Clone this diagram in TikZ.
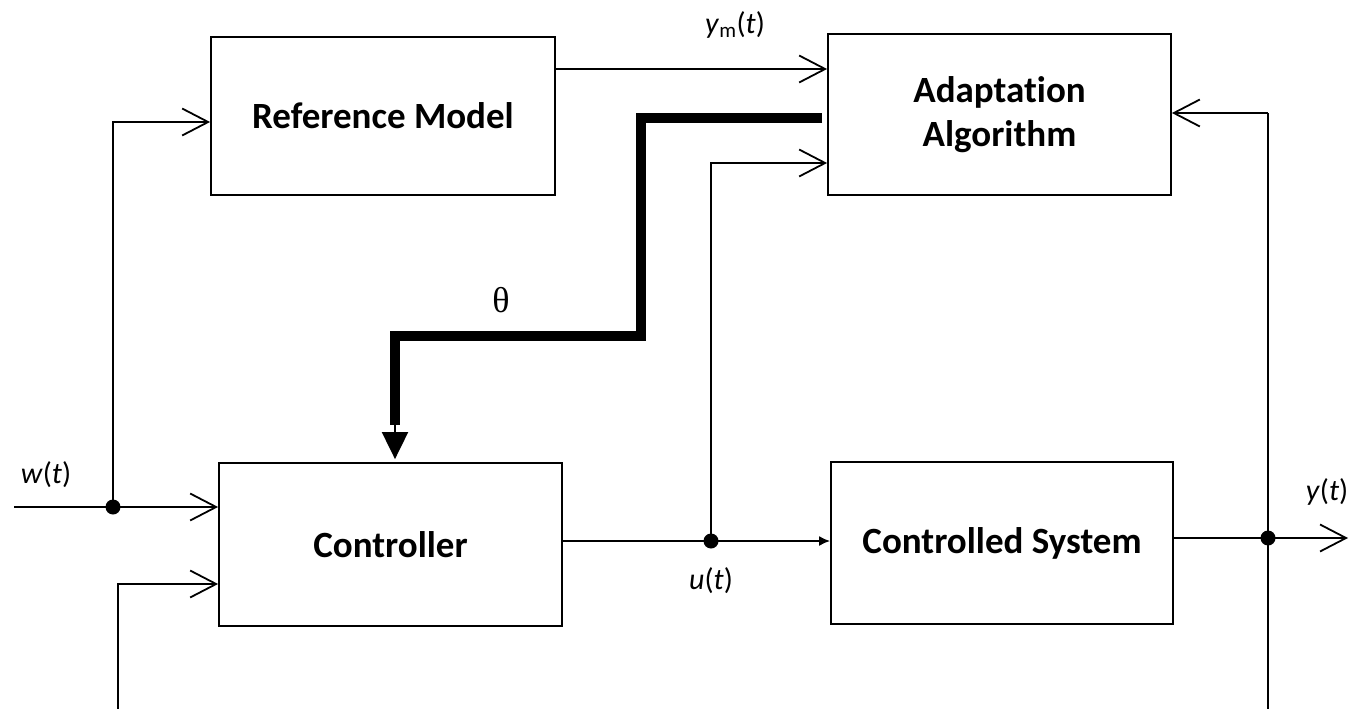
\documentclass[tikz,border=0pt]{standalone}
\usepackage{fontspec}
\setmainfont{Carlito}[RawFeature={-liga;-clig;-calt}]
\newfontfamily\thetafont{Liberation Serif}
\usetikzlibrary{arrows.meta,positioning}
\tikzset{
  block/.style={draw=black,line width=1.8pt,rectangle,inner sep=0pt,
    font=\fontsize{37}{44}\selectfont\bfseries,align=center},
  wire/.style={line width=1.8pt},
  openarr/.style={-{Straight Barb[length=26pt,width=27pt]}},
  smallarr/.style={-{Latex[length=11pt,width=10pt]}},
  junction/.style={circle,fill=black,inner sep=0pt,minimum size=15pt},
  siglabel/.style={font=\fontsize{30}{34}\selectfont,inner sep=0pt},
  thickline/.style={line width=10pt,line join=miter}
}
\begin{document}
\begin{tikzpicture}[x=1pt,y=-1pt]
\useasboundingbox[fill=white] (0,0) rectangle (1355,709);

% blocks
\node[block,minimum width=344pt,minimum height=158pt] (ref) at (383,116) {Reference Model};
\node[block,minimum width=343pt,minimum height=161pt] (adapt) at (999.5,114.5) {Adaptat\kern0pt ion\\Algorithm};
\node[block,minimum width=343pt,minimum height=163pt] (ctrl) at (390.5,544.5) {Controller};
\node[block,minimum width=342pt,minimum height=162pt] (plant) at (1002,543) {Controlled System};

% coordinates
\coordinate (win) at (14,507);
\node[junction] (dw) at (113,507) {};
\coordinate (wup) at (113,122);
\coordinate (fbl) at (118,709);
\coordinate (fblc) at (118,584);
\node[junction] (du) at (711,541) {};
\coordinate (uup) at (711,163);
\node[junction] (dy) at (1268,538) {};
\coordinate (ytop) at (1268,113);
\coordinate (ybot) at (1268,709);
\coordinate (yout) at (1348,538);
\coordinate (ym) at (0,69);
\coordinate (cout) at (0,541);
\coordinate (pout) at (0,538);

% w(t) input
\draw[wire] (win) -- (dw.center);
\draw[wire,openarr] (dw.center) -- (ctrl.west |- dw);
\draw[wire,openarr] (dw.center) -- (wup) -- (ref.west |- wup);

% bottom feedback into controller
\draw[wire,openarr] (fbl) -- (fblc) -- (ctrl.west |- fblc);

% y_m(t)
\draw[wire,openarr] (ref.east |- ym) -- (adapt.west |- ym);

% u(t)
\draw[wire] (ctrl.east |- cout) -- (du.center);
\draw[wire,smallarr] (du.center) -- (plant.west |- cout);
\draw[wire,openarr] (du.center) -- (uup) -- (adapt.west |- uup);

% y(t)
\draw[wire] (plant.east |- pout) -- (dy.center);
\draw[wire,openarr] (dy.center) -- (yout);
\draw[wire] (ybot) -- (ytop);
\draw[wire,openarr] (ytop) -- (adapt.east |- ytop);

% theta
\coordinate (th0) at (822,118);
\coordinate (th1) at (641,118);
\coordinate (th2) at (641,336);
\coordinate (th3) at (395,336);
\coordinate (th4) at (395,425);
\draw[thickline] (th0) -- (th1) -- (th2) -- (th3) -- (th4);
\draw[line width=2pt,-{Triangle[length=27pt,width=26pt]},shorten >=3pt] (th4) -- (ctrl.north -| th4);

% labels
\node[siglabel] (lym) at (735,25) {\textit{y}\textsubscript{m}(\textit{t})};
\node[inner sep=0pt,font=\thetafont\fontsize{36}{40}\selectfont] (lth) at (501,300) {θ};
\node[siglabel] (lw) at (46,475) {\textit{w}(\textit{t})};
\node[siglabel] (lu) at (711,581) {\textit{u}(\textit{t})};
\node[siglabel] (ly) at (1327,492) {\textit{y}(\textit{t})};
\end{tikzpicture}
\end{document}
